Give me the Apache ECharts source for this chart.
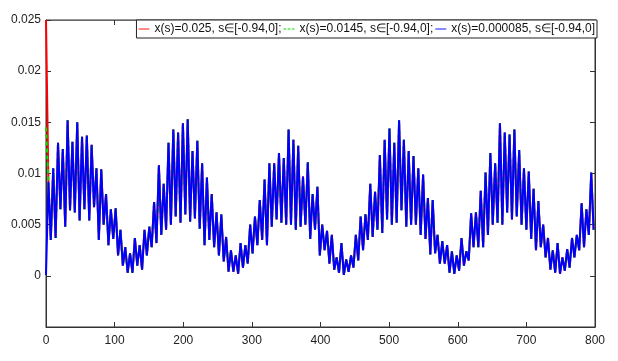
<!DOCTYPE html>
<html>
<head>
<meta charset="utf-8">
<script src="https://cdn.jsdelivr.net/npm/echarts@6/dist/echarts.min.js"></script>
<style>
html, body { margin: 0; padding: 0; background: #fff; }
#chart { width: 618px; height: 361px; }
</style>
</head>
<body>
<div id="chart"></div>
<script>
// sample spacing of the shared trajectory (x units)
const STEP = 3.5;

const seriesNames = [
    "x(s)=0.025, s\u2208[-0.94,0];",
    "x(s)=0.0145, s\u2208[-0.94,0];",
    "x(s)=0.000085, s\u2208[-0.94,0]"
];
// value of each curve at x = 0
const startValues = [0.025, 0.0145, 0.000085];
const seriesColors = ["#ff0000", "#00dd00", "#0000ff"];

// common trajectory, x = 3.5, 7, 10.5 ... 798
const traj = [
    // 3.5 - 133
    0.0092, 0.0035, 0.0105, 0.0037, 0.0130, 0.0065, 0.0124, 0.0048, 0.0152, 0.0064,
    0.0131, 0.0062, 0.0150, 0.0054, 0.0136, 0.0065, 0.0137, 0.0054, 0.0128, 0.0067,
    0.0105, 0.0035, 0.0104, 0.0050, 0.0080, 0.0030, 0.0065, 0.0036, 0.0066, 0.0020,
    0.0045, 0.0010, 0.0028, 0.0003, 0.0022, 0.0003, 0.0037, 0.0010,
    // 136.5 - 266
    0.0030, 0.0006, 0.0045, 0.0020, 0.0048, 0.0028, 0.0072, 0.0032, 0.0108, 0.0040,
    0.0090, 0.0045, 0.0130, 0.0050, 0.0143, 0.0058, 0.0140, 0.0052, 0.0149, 0.0060,
    0.0153, 0.0053, 0.0122, 0.0056, 0.0132, 0.0046, 0.0110, 0.0030, 0.0096, 0.0035,
    0.0080, 0.0028, 0.0062, 0.0020, 0.0060, 0.0014, 0.0038, 0.0004,
    // 269.5 - 399
    0.0025, 0.0004, 0.0020, 0.0002, 0.0032, 0.0008, 0.0030, 0.0012, 0.0050, 0.0022,
    0.0058, 0.0030, 0.0074, 0.0035, 0.0094, 0.0030, 0.0110, 0.0048, 0.0110, 0.0055,
    0.0120, 0.0052, 0.0115, 0.0050, 0.0143, 0.0050, 0.0133, 0.0045, 0.0127, 0.0048,
    0.0097, 0.0050, 0.0111, 0.0036, 0.0080, 0.0045, 0.0087, 0.0020,
    // 402.5 - 532
    0.0050, 0.0025, 0.0044, 0.0012, 0.0040, 0.0006, 0.0018, 0.0003, 0.0032, 0.0001,
    0.0016, 0.0004, 0.0020, 0.0008, 0.0040, 0.0015, 0.0058, 0.0025, 0.0060, 0.0035,
    0.0090, 0.0038, 0.0082, 0.0045, 0.0118, 0.0042, 0.0133, 0.0055, 0.0144, 0.0050,
    0.0130, 0.0052, 0.0152, 0.0064, 0.0133, 0.0048, 0.0122, 0.0050,
    // 535.5 - 665
    0.0117, 0.0050, 0.0105, 0.0040, 0.0099, 0.0036, 0.0076, 0.0021, 0.0074, 0.0022,
    0.0040, 0.0012, 0.0034, 0.0012, 0.0030, 0.0003, 0.0024, 0.0002, 0.0020, 0.0005,
    0.0037, 0.0010, 0.0024, 0.0015, 0.0061, 0.0028, 0.0062, 0.0028, 0.0083, 0.0028,
    0.0101, 0.0040, 0.0120, 0.0050, 0.0110, 0.0052, 0.0149, 0.0050,
    // 668.5 - 798
    0.0140, 0.0062, 0.0138, 0.0055, 0.0143, 0.0058, 0.0123, 0.0050, 0.0105, 0.0045,
    0.0102, 0.0036, 0.0085, 0.0025, 0.0073, 0.0028, 0.0050, 0.0018, 0.0037, 0.0006,
    0.0025, 0.0003, 0.0032, 0.0002, 0.0018, 0.0005, 0.0026, 0.0008, 0.0037, 0.0018,
    0.0040, 0.0025, 0.0071, 0.0028, 0.0065, 0.0040, 0.0101, 0.0045
];

const xTicks = { min: 0, max: 800, interval: 100 };
const yTicks = { min: -0.005, max: 0.025, interval: 0.005 };

const myChart = echarts.init(document.getElementById("chart"));

const buildData = (start) => {
    let pts = [[0, start]];
    traj.forEach((v, i) => pts.push([(i + 1) * STEP, v]));
    return pts;
};

const fontFamily = "Liberation Sans, Arial, sans-serif";
const axisColor = "#333";
// legend icons: plain line / dashed line
const solidIcon = "path://M0,0H12V1H0Z";
const dashIcon = "path://M0,0H3V1H0Z M4.5,0H7.5V1H4.5Z M9,0H12V1H9Z";

let series = seriesNames.map((name, i) => ({
    name: name,
    type: "line",
    data: buildData(startValues[i]),
    symbol: "none",
    color: seriesColors[i],
    lineStyle: {
        width: 2,
        color: seriesColors[i],
        type: i === 1 ? [4, 3] : "solid",
    },
    z: 2 + i,
}));

const option = {
    animation: false,
    backgroundColor: "#fff",
    grid: {
        left: 46,
        right: 23,
        top: 20,
        bottom: 34,
        show: true,
        borderColor: axisColor,
        borderWidth: 1,
    },
    legend: {
        right: 21,
        top: 20,
        orient: "horizontal",
        itemWidth: 11,
        itemHeight: 1.5,
        itemGap: 2,
        padding: [2, 2],
        backgroundColor: "#fff",
        borderColor: "#222",
        borderWidth: 1,
        borderRadius: 0,
        textStyle: { fontSize: 12, color: "#111", fontFamily: fontFamily, lineHeight: 14 },
        data: seriesNames.map((n, i) => ({ name: n, icon: i === 1 ? dashIcon : solidIcon })),
    },
    xAxis: [
        {
            type: "value",
            min: xTicks.min,
            max: xTicks.max,
            interval: xTicks.interval,
            axisLine: { show: true, onZero: false, lineStyle: { color: axisColor } },
            axisTick: { show: true, inside: true, length: 5, lineStyle: { color: axisColor } },
            axisLabel: { color: "#222", fontSize: 12, fontFamily: fontFamily, margin: 8 },
            splitLine: { show: false },
        },
        {
            type: "value",
            position: "top",
            min: xTicks.min,
            max: xTicks.max,
            interval: xTicks.interval,
            axisLine: { show: true, onZero: false, lineStyle: { color: "#666" } },
            axisTick: { show: true, inside: true, length: 5, lineStyle: { color: axisColor } },
            axisLabel: { show: false },
            splitLine: { show: false },
        },
    ],
    yAxis: [
        {
            type: "value",
            min: yTicks.min,
            max: yTicks.max,
            interval: yTicks.interval,
            axisLine: { show: true, onZero: false, lineStyle: { color: axisColor } },
            axisTick: { show: true, inside: true, length: 5, lineStyle: { color: axisColor } },
            axisLabel: {
                color: "#222",
                fontSize: 12,
                fontFamily: fontFamily,
                margin: 5,
                showMinLabel: false,
                formatter: (v) => String(+v.toFixed(4)),
            },
            splitLine: { show: false },
        },
        {
            type: "value",
            position: "right",
            min: yTicks.min,
            max: yTicks.max,
            interval: yTicks.interval,
            axisLine: { show: true, onZero: false, lineStyle: { color: axisColor } },
            axisTick: { show: true, inside: true, length: 5, lineStyle: { color: axisColor } },
            axisLabel: { show: false },
            splitLine: { show: false },
        },
    ],
    series: series,
};

myChart.setOption(option);
</script>
</body>
</html>
